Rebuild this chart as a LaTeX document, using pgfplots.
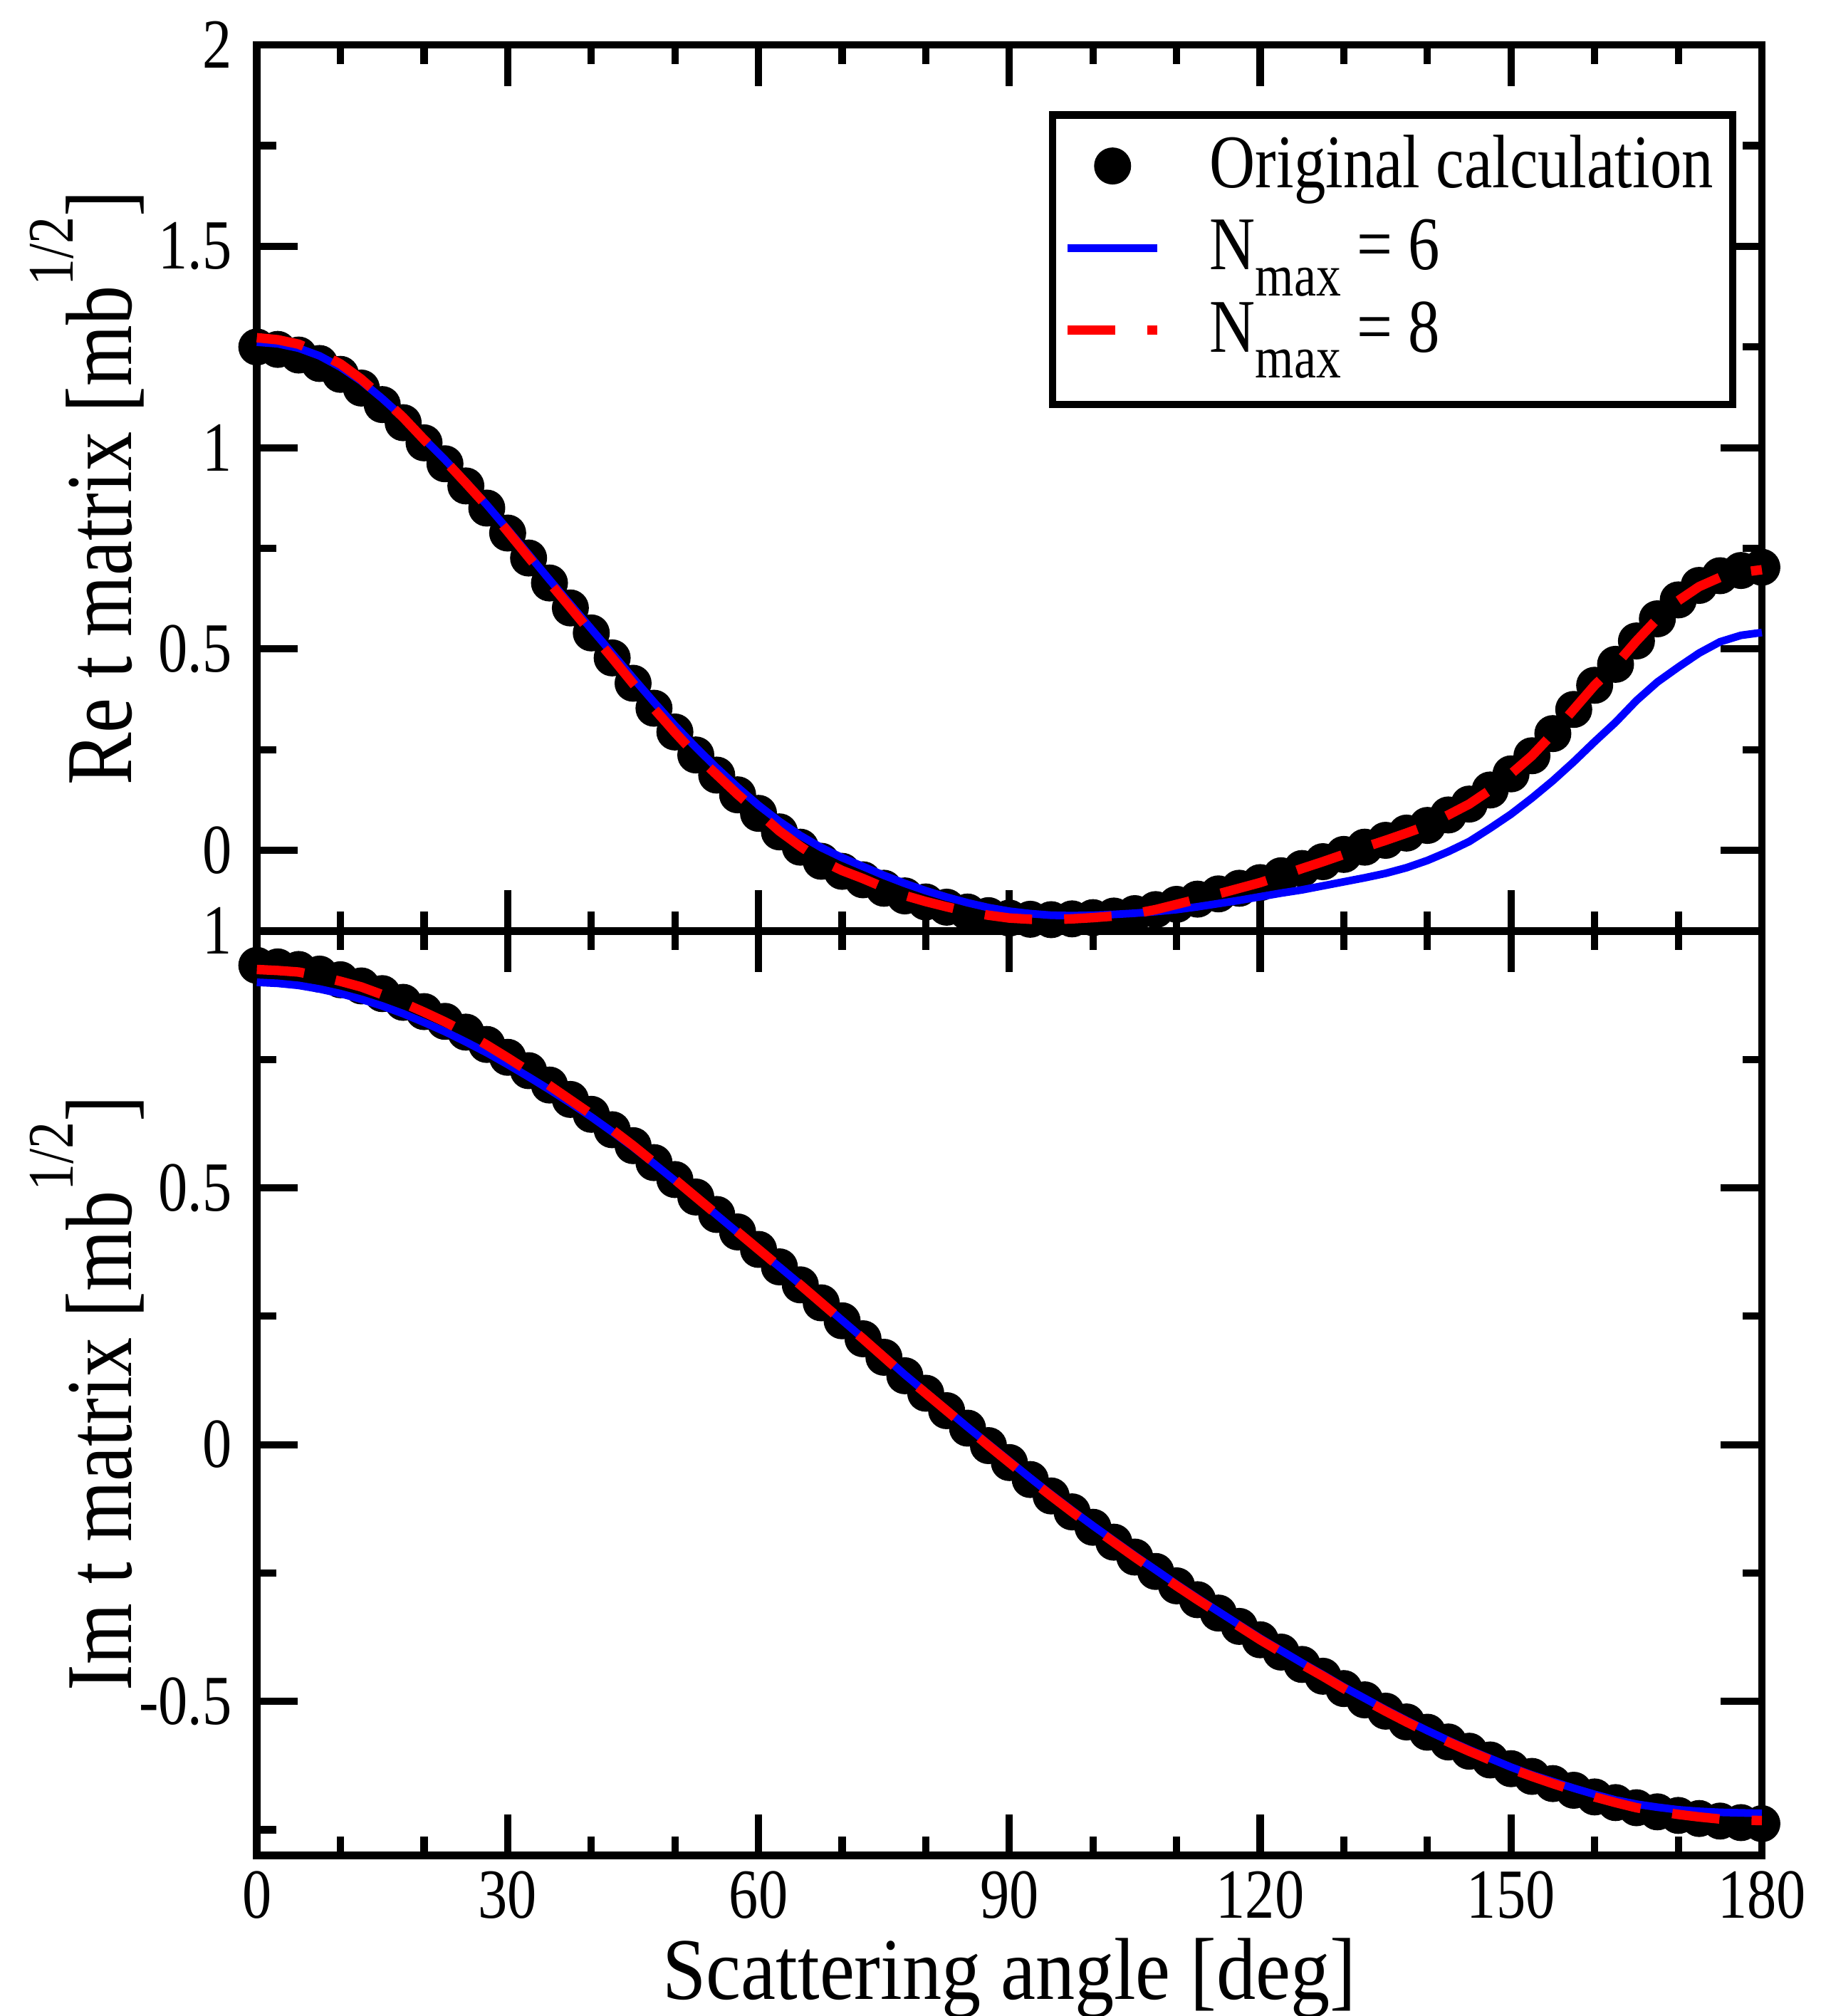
\documentclass[border=0pt]{standalone}
\usepackage{fontspec}
\setmainfont{Liberation Serif}
\usepackage{graphicx}
\usepackage{pgfplots}
\usepackage{pgfplotstable}
\pgfplotsset{compat=1.18}

% text in the reference is a bit stretched vertically
\newcommand{\vs}[1]{\scalebox{1}[1.2]{#1}}
\newcommand{\supr}[1]{\raisebox{0.62em}{\fontsize{12}{13}\selectfont #1}}
\newcommand{\Nmax}{N\raisebox{-4.8pt}{\fontsize{11}{12}\selectfont max}}

% Re part: theta, original, Nmax=6, Nmax=8
\pgfplotstableread{
theta orig n6 n8
0 1.250 1.262 1.273
2.5 1.244 1.258 1.268
5 1.230 1.247 1.257
7.5 1.209 1.228 1.235
10 1.182 1.200 1.208
12.5 1.148 1.165 1.170
15 1.107 1.122 1.124
17.5 1.062 1.075 1.075
20 1.012 1.022 1.020
22.5 0.960 0.970 0.968
25 0.905 0.915 0.912
27.5 0.850 0.858 0.855
30 0.788 0.797 0.792
32.5 0.726 0.735 0.728
35 0.664 0.672 0.665
37.5 0.602 0.611 0.603
40 0.540 0.550 0.540
42.5 0.478 0.489 0.478
45 0.415 0.428 0.414
47.5 0.353 0.368 0.352
50 0.294 0.310 0.293
52.5 0.237 0.256 0.237
55 0.187 0.205 0.188
57.5 0.138 0.157 0.139
60 0.092 0.112 0.094
62.5 0.046 0.072 0.048
65 0.008 0.037 0.010
67.5 -0.027 0.007 -0.025
70 -0.052 -0.018 -0.050
72.5 -0.073 -0.040 -0.070
75 -0.094 -0.062 -0.092
77.5 -0.113 -0.082 -0.112
80 -0.128 -0.100 -0.127
82.5 -0.141 -0.116 -0.140
85 -0.153 -0.130 -0.152
87.5 -0.162 -0.142 -0.161
90 -0.168 -0.151 -0.168
92.5 -0.171 -0.157 -0.171
95 -0.172 -0.161 -0.172
97.5 -0.170 -0.162 -0.170
100 -0.167 -0.161 -0.167
102.5 -0.163 -0.159 -0.163
105 -0.157 -0.156 -0.157
107.5 -0.147 -0.152 -0.147
110 -0.134 -0.147 -0.134
112.5 -0.121 -0.140 -0.121
115 -0.108 -0.132 -0.108
117.5 -0.094 -0.124 -0.094
120 -0.080 -0.115 -0.080
122.5 -0.063 -0.106 -0.063
125 -0.045 -0.098 -0.045
127.5 -0.028 -0.088 -0.028
130 -0.010 -0.078 -0.010
132.5 0.008 -0.068 0.008
135 0.025 -0.057 0.025
137.5 0.043 -0.043 0.043
140 0.062 -0.025 0.062
142.5 0.088 -0.003 0.088
145 0.115 0.022 0.115
147.5 0.150 0.055 0.150
150 0.190 0.090 0.190
152.5 0.235 0.130 0.235
155 0.290 0.173 0.290
157.5 0.350 0.220 0.350
160 0.410 0.270 0.410
162.5 0.462 0.318 0.460
165 0.520 0.372 0.520
167.5 0.575 0.418 0.575
170 0.622 0.455 0.620
172.5 0.658 0.490 0.655
175 0.682 0.518 0.678
177.5 0.695 0.534 0.690
180 0.703 0.541 0.697
}\retable

% Im part: theta, original, Nmax=6, Nmax=8
\pgfplotstableread{
theta orig n6 n8
0 0.933 0.900 0.925
2.5 0.930 0.898 0.923
5 0.925 0.894 0.920
7.5 0.916 0.887 0.912
10 0.905 0.878 0.902
12.5 0.893 0.867 0.891
15 0.878 0.854 0.876
17.5 0.861 0.839 0.860
20 0.843 0.822 0.842
22.5 0.824 0.804 0.823
25 0.803 0.784 0.802
27.5 0.779 0.763 0.778
30 0.754 0.740 0.753
32.5 0.728 0.716 0.727
35 0.700 0.691 0.699
37.5 0.672 0.665 0.671
40 0.643 0.638 0.643
42.5 0.613 0.609 0.613
45 0.582 0.579 0.582
47.5 0.549 0.547 0.549
50 0.516 0.514 0.516
52.5 0.482 0.481 0.482
55 0.448 0.447 0.448
57.5 0.414 0.413 0.414
60 0.380 0.379 0.380
62.5 0.346 0.346 0.346
65 0.311 0.312 0.311
67.5 0.276 0.277 0.276
70 0.241 0.242 0.241
72.5 0.206 0.207 0.206
75 0.170 0.172 0.170
77.5 0.134 0.136 0.134
80 0.100 0.102 0.100
82.5 0.066 0.068 0.066
85 0.032 0.034 0.032
87.5 -0.002 0.001 -0.002
90 -0.035 -0.032 -0.035
92.5 -0.068 -0.065 -0.068
95 -0.100 -0.097 -0.100
97.5 -0.131 -0.128 -0.131
100 -0.161 -0.158 -0.161
102.5 -0.190 -0.187 -0.190
105 -0.219 -0.216 -0.219
107.5 -0.247 -0.244 -0.247
110 -0.275 -0.272 -0.275
112.5 -0.302 -0.299 -0.302
115 -0.328 -0.325 -0.328
117.5 -0.354 -0.351 -0.354
120 -0.380 -0.377 -0.380
122.5 -0.404 -0.401 -0.404
125 -0.428 -0.425 -0.428
127.5 -0.451 -0.448 -0.451
130 -0.475 -0.472 -0.475
132.5 -0.497 -0.494 -0.497
135 -0.519 -0.516 -0.519
137.5 -0.540 -0.537 -0.540
140 -0.560 -0.557 -0.560
142.5 -0.579 -0.576 -0.579
145 -0.597 -0.594 -0.597
147.5 -0.614 -0.611 -0.614
150 -0.631 -0.628 -0.631
152.5 -0.646 -0.643 -0.646
155 -0.660 -0.656 -0.660
157.5 -0.673 -0.669 -0.673
160 -0.686 -0.681 -0.686
162.5 -0.697 -0.692 -0.697
165 -0.707 -0.700 -0.707
167.5 -0.715 -0.706 -0.714
170 -0.722 -0.711 -0.720
172.5 -0.728 -0.714 -0.725
175 -0.733 -0.716 -0.729
177.5 -0.736 -0.717 -0.731
180 -0.738 -0.718 -0.732
}\imtable

\pgfplotsset{
  panel/.style={
    scale only axis,
    width=11.72cm,
    xmin=0, xmax=180,
    xtick distance=30, minor x tick num=2,
    ytick distance=0.5, minor y tick num=1,
    tick align=inside, tick pos=both,
    major tick length=0.32cm, minor tick length=0.15cm,
    axis line style={line width=1.7pt},
    tick style={black, line width=1.6pt},
    /pgf/number format/assume math mode=true,
    tick label style={font=\fontsize{13}{15}\selectfont},
    label style={font=\fontsize{17.4}{20}\selectfont},
    xticklabel={\vs{\pgfmathprintnumber{\tick}}},
    yticklabel={\vs{\pgfmathprintnumber{\tick}}},
    yticklabel style={xshift=-0.07cm},
    ylabel style={at={(axis description cs:-0.113,0.5)}, anchor=center},
    clip=false,
    clip marker paths=true,
    % legend rows sit on the text baseline, so lift the samples to mid-height
    legend image code/.code={
      \draw[mark repeat=2, mark phase=2, ##1]
        plot coordinates {(0cm,0.17cm) (0.35cm,0.17cm) (0.7cm,0.17cm)};
    },
  },
  orig/.style={only marks, mark=*, mark size=3.9pt, black, line width=0.4pt},
  n6/.style={blue, line width=1.7pt, no marks},
  n8/.style={red, line width=2.1pt, no marks, dash pattern=on 0.37cm off 0.25cm},
  % last legend row: keep room below for the subscript
  lastlegend/.style={
    legend image code/.code={
      \draw[##1] (0cm,0.17cm) -- (0.7cm,0.17cm);
      \path (0cm,-0.23cm);
    },
  },
}

\begin{document}
\begin{tikzpicture}
\path[use as bounding box] (-2cm,-1.25cm) rectangle (12.18cm,14.45cm);

% lower panel: imaginary part
\begin{axis}[
    panel,
    at={(0,0)}, anchor=south west,
    height=7.2cm,
    ymin=-0.8, ymax=1,
    xlabel={\scalebox{1}[1.12]{Scattering angle [deg]}},
    xlabel style={yshift=0.09cm},
    ylabel={\vs{Im t matrix [mb\supr{1/2}]}},
]
\addplot[orig] table[x=theta, y=orig] {\imtable};
\addplot[n6] table[x=theta, y=n6] {\imtable};
\addplot[n8] table[x=theta, y=n8] {\imtable};
\end{axis}

% upper panel: real part
\begin{axis}[
    panel,
    at={(0,7.2cm)}, anchor=south west,
    height=6.9cm,
    ymin=-0.2, ymax=2,
    xticklabels={},
    ylabel={\vs{Re t matrix [mb\supr{1/2}]}},
    legend style={
        at={(0.983,0.925)}, anchor=north east,
        draw=black, line width=1.6pt, fill=white,
        font=\fontsize{14}{16}\selectfont,
        inner xsep=0.08cm, inner ysep=0.14cm,
        row sep=0.16cm,
        nodes={inner ysep=0.5pt},
        cells={anchor=base west},
    },
]
\addplot[orig] table[x=theta, y=orig] {\retable};
\addlegendentry{\hspace{0.3cm}\vs{Original calculation}}
\addplot[n6] table[x=theta, y=n6] {\retable};
\addlegendentry{\hspace{0.3cm}\vs{\Nmax{} = 6}}
\addplot[n8, lastlegend] table[x=theta, y=n8] {\retable};
\addlegendentry{\hspace{0.3cm}\vs{\Nmax{} = 8}}
\end{axis}
\end{tikzpicture}
\end{document}
